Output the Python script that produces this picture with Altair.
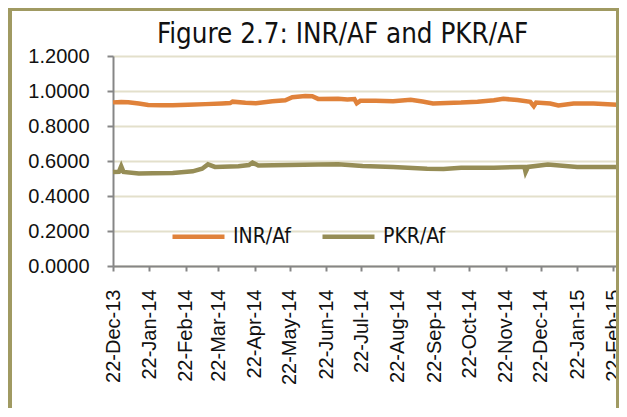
import altair as alt
import pandas as pd

# ---- data ----
inr_dates = [
    "2013-12-22", "2013-12-29", "2014-01-04", "2014-01-13", "2014-01-21",
    "2014-02-01", "2014-02-11", "2014-02-24", "2014-03-11", "2014-03-25",
    "2014-04-01", "2014-04-03", "2014-04-14", "2014-04-23", "2014-05-07",
    "2014-05-18", "2014-05-24", "2014-06-04", "2014-06-10", "2014-06-15",
    "2014-07-02", "2014-07-10", "2014-07-16", "2014-07-18", "2014-07-21",
    "2014-08-03", "2014-08-18", "2014-09-02", "2014-09-12", "2014-09-21",
    "2014-10-15", "2014-10-29", "2014-11-12", "2014-11-20", "2014-12-02",
    "2014-12-13", "2014-12-16", "2014-12-18", "2014-12-30", "2015-01-06",
    "2015-01-19", "2015-02-05", "2015-02-25",
]
inr_values = [
    0.935, 0.937, 0.936, 0.928, 0.920,
    0.919, 0.918, 0.922, 0.925, 0.929,
    0.931, 0.939, 0.933, 0.930, 0.941,
    0.947, 0.964, 0.972, 0.970, 0.955,
    0.956, 0.952, 0.954, 0.930, 0.944,
    0.944, 0.942, 0.950, 0.940, 0.929,
    0.934, 0.939, 0.947, 0.956, 0.948,
    0.938, 0.913, 0.934, 0.928, 0.917,
    0.928, 0.928, 0.922,
]

pkr_dates = [
    "2013-12-22", "2013-12-27", "2013-12-29", "2013-12-31", "2014-01-13",
    "2014-01-25", "2014-02-11", "2014-02-28", "2014-03-08", "2014-03-13",
    "2014-03-19", "2014-04-08", "2014-04-17", "2014-04-20", "2014-04-25",
    "2014-05-21", "2014-06-15", "2014-07-02", "2014-07-23", "2014-08-18",
    "2014-09-16", "2014-09-30", "2014-10-15", "2014-11-12", "2014-12-05",
    "2014-12-08", "2014-12-09", "2014-12-11", "2014-12-28", "2015-01-22",
    "2015-02-25",
]
pkr_values = [
    0.537, 0.538, 0.570, 0.537, 0.528,
    0.530, 0.532, 0.541, 0.556, 0.581,
    0.566, 0.570, 0.577, 0.591, 0.574,
    0.577, 0.580, 0.581, 0.572, 0.566,
    0.556, 0.555, 0.562, 0.562, 0.566,
    0.566, 0.537, 0.566, 0.580, 0.566,
    0.566,
]

series_names = ["INR/Af", "PKR/Af"]
series_colors = ["#E0823A", "#968D56"]
y_ticks = [0.0, 0.2, 0.4, 0.6, 0.8, 1.0, 1.2]
tick_months = [(2013, 12)] + [(2014, m) for m in range(1, 13)] + [(2015, 1), (2015, 2)]
title_text = "Figure 2.7: INR/AF and PKR/AF"

# ---- build table ----
df = pd.concat([
    pd.DataFrame({"date": pd.to_datetime(inr_dates), "value": inr_values, "series": series_names[0]}),
    pd.DataFrame({"date": pd.to_datetime(pkr_dates), "value": pkr_values, "series": series_names[1]}),
])

NARROW = "Liberation Sans Narrow, DejaVu Sans Condensed, sans-serif"
REG = "Liberation Sans, Arial, sans-serif"

x_tick_values = [alt.DateTime(year=y, month=m, date=22) for (y, m) in tick_months]

lines = alt.Chart(df).mark_line(strokeWidth=4.5).encode(
    x=alt.X(
        "date:T",
        scale=alt.Scale(domain=[alt.DateTime(year=2013, month=12, date=22),
                                alt.DateTime(year=2015, month=2, date=25)]),
        axis=alt.Axis(
            title=None, values=x_tick_values, format="%d-%b-%y", labelAngle=-90,
            labelFont=REG, labelFontSize=20, labelColor="#111", labelPadding=18,
            tickSize=5, tickColor="#868686", tickWidth=2, domainColor="#868686",
            domainWidth=2, grid=False, labelOverlap=False, labelBound=False,
            labelFlush=False,
        ),
    ),
    y=alt.Y(
        "value:Q",
        scale=alt.Scale(domain=[0, 1.2], nice=False, zero=True),
        axis=alt.Axis(
            title=None, values=y_ticks, format=".4f", labelFont=REG, labelFontSize=20,
            labelColor="#111", labelPadding=18, tickSize=6, tickColor="#868686",
            tickWidth=2, domainColor="#868686", domainWidth=2, grid=True,
            gridColor="#E3E0CB", gridWidth=2,
        ),
    ),
    color=alt.Color(
        "series:N",
        scale=alt.Scale(domain=series_names, range=series_colors),
        legend=alt.Legend(
            orient="none", legendX=57, legendY=152, direction="horizontal", title=None,
            symbolType="stroke", symbolSize=2704, symbolStrokeWidth=4.5,
            labelFont=NARROW, labelFontSize=21, labelColor="#111", labelOffset=6,
            columnPadding=21, padding=0,
        ),
    ),
)

title = alt.Chart(pd.DataFrame({"t": [title_text]})).mark_text(
    font=NARROW, fontSize=27.5, align="left", baseline="alphabetic", color="#111"
).encode(text="t:N", x=alt.value(44), y=alt.value(-13))

border = alt.Chart(df).mark_rect(fill=None, stroke="#A09A62", strokeWidth=3).encode(
    x=alt.value(-103), x2=alt.value(504.5), y=alt.value(-47), y2=alt.value(420)
)

chart = alt.layer(lines, title, border).properties(
    width=504, height=210,
    autosize=alt.AutoSizeParams(type="none"),
    padding={"left": 105, "top": 48, "right": 2, "bottom": 142},
).configure_view(stroke=None).configure(background="white")

chart.save("out.html", embed_options={"renderer": "svg", "actions": False})
